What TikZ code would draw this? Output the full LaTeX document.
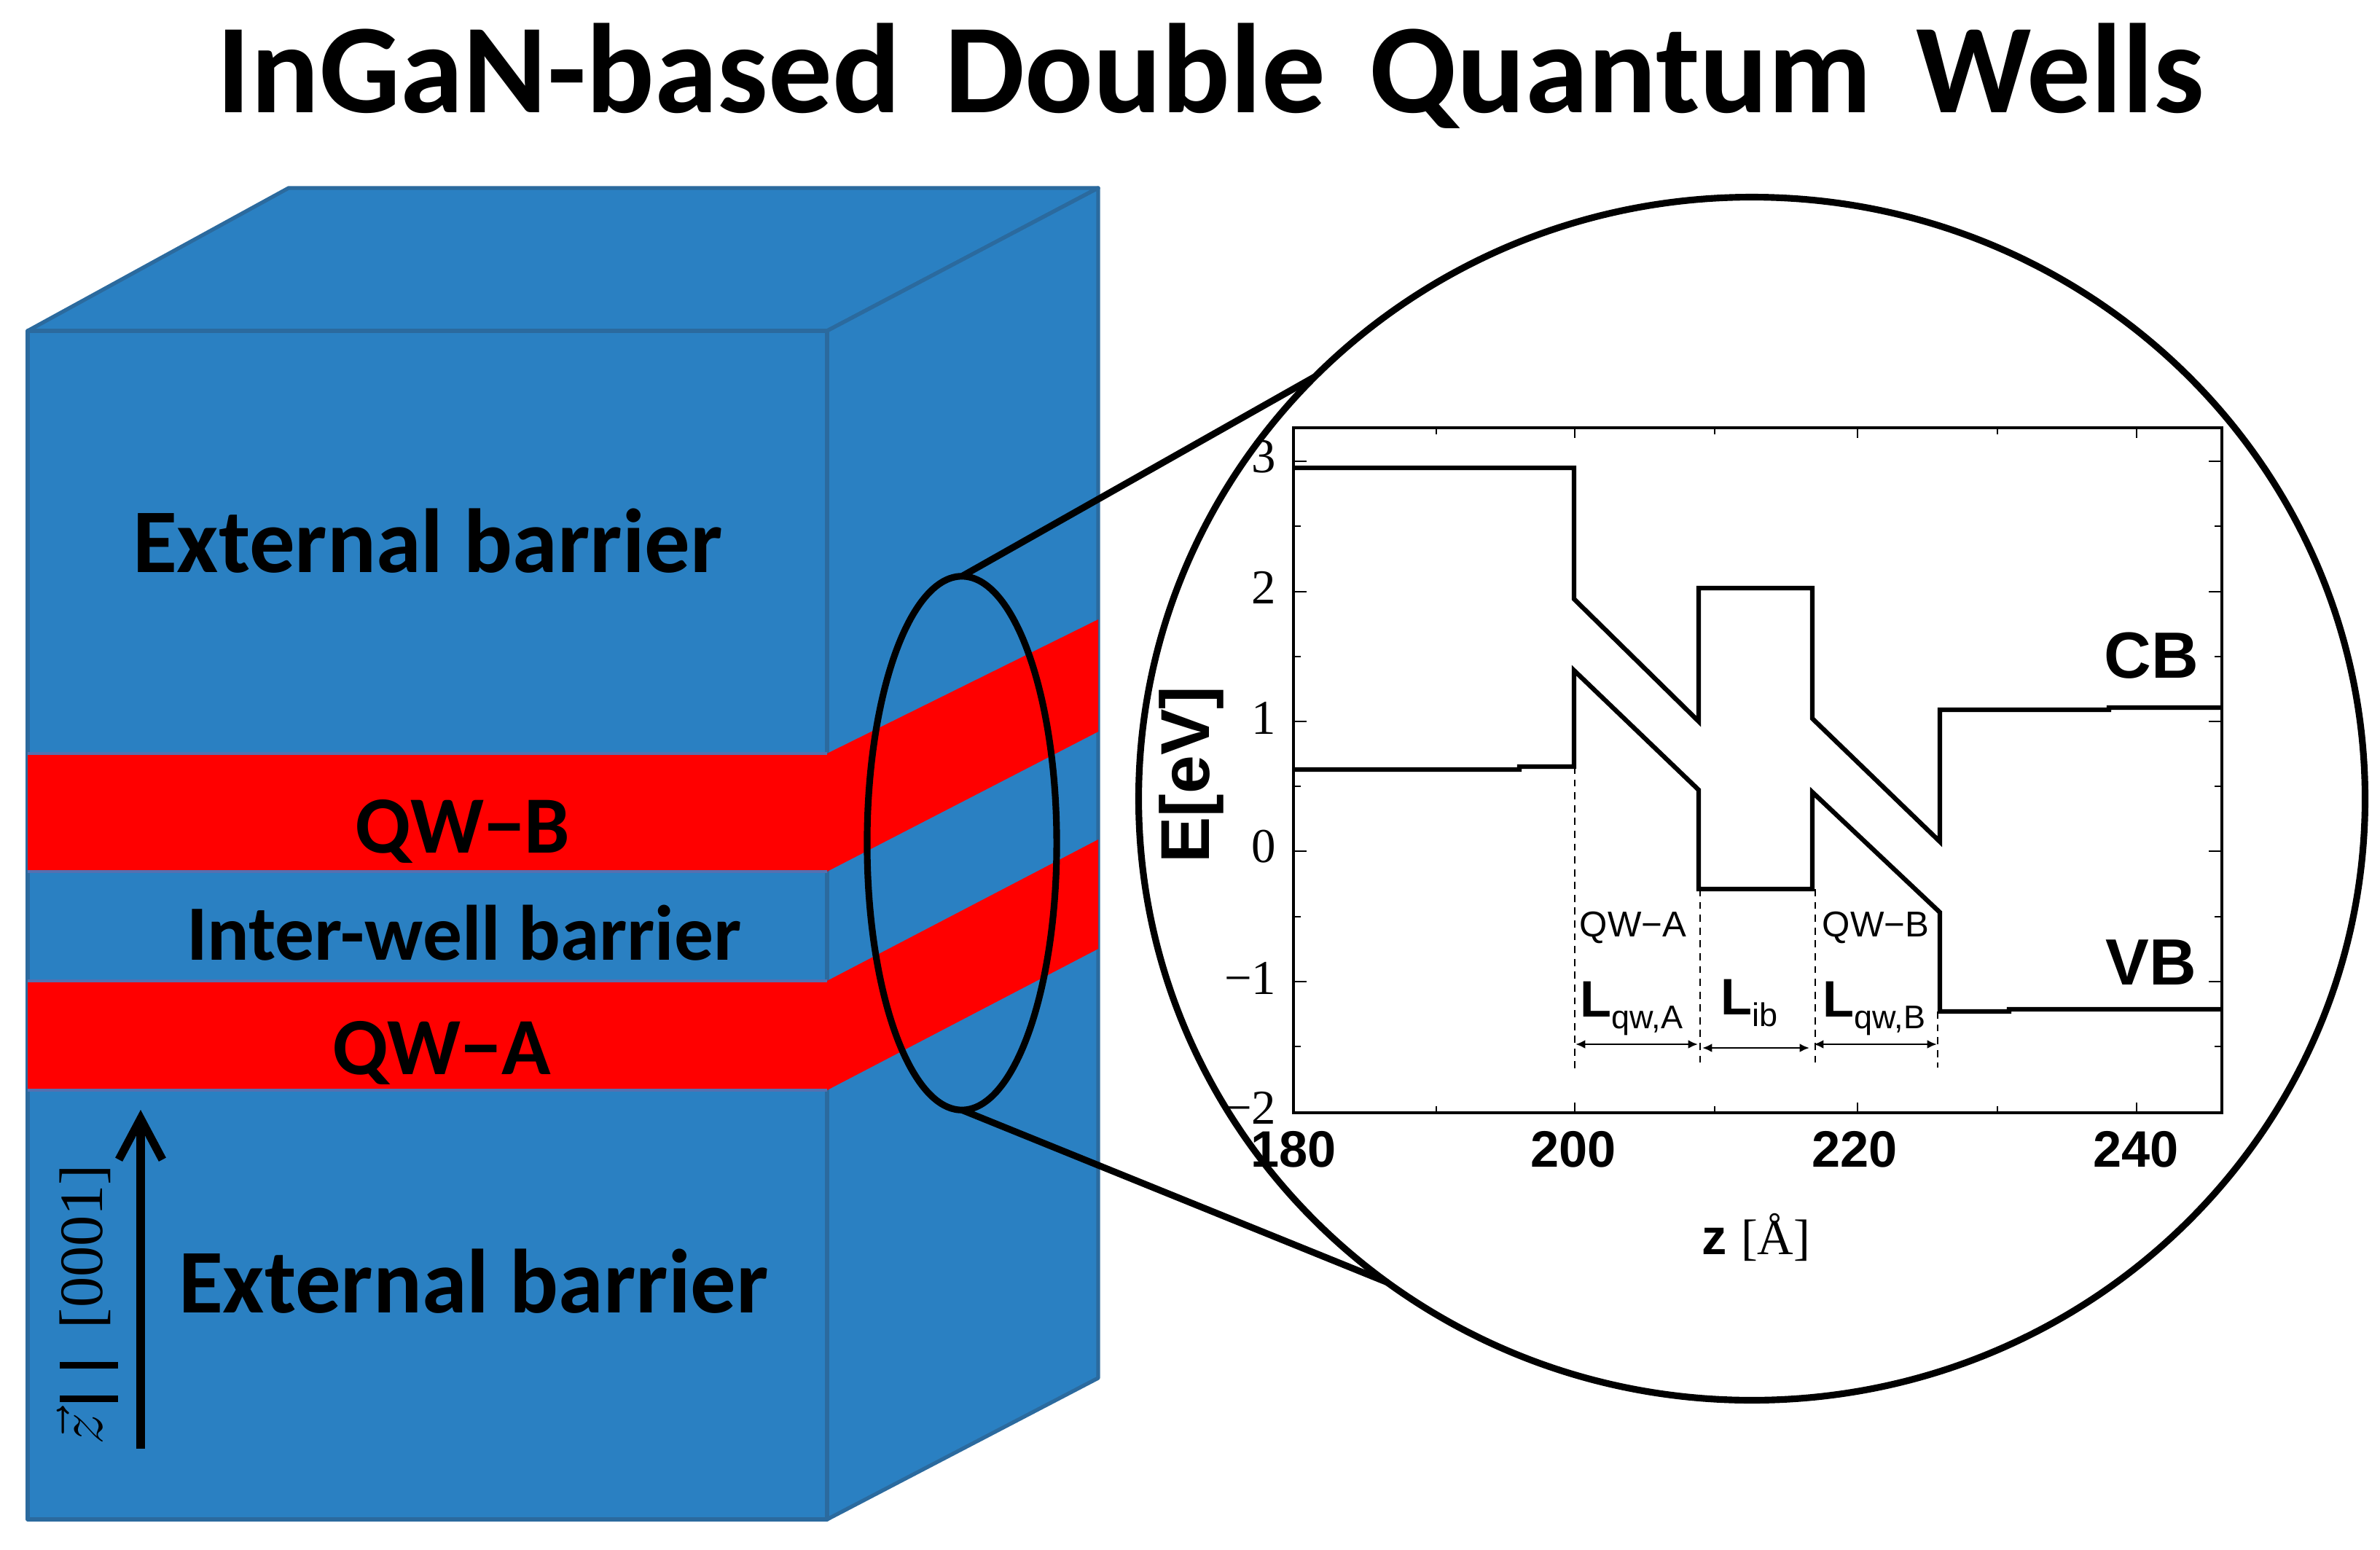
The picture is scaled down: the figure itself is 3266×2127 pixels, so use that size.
\documentclass[tikz,border=0pt]{standalone}
\usepackage{fontspec}
\setmainfont{Liberation Sans}
\newfontfamily\calfont{Carlito}
\newfontfamily\serfont{Liberation Serif}
\usetikzlibrary{arrows.meta,shapes.geometric}
\definecolor{boxblue}{HTML}{2A80C2}
\definecolor{boxedge}{HTML}{2B6A9E}
\definecolor{wellred}{HTML}{FF0000}
\definecolor{wellrim}{HTML}{5570B0}
\tikzset{
  face/.style={fill=boxblue,draw=boxedge,line width=1.5pt,line join=round},
  well/.style={fill=wellred,draw=none},
  boxlabel/.style={inner sep=0pt,font=\calfont\bfseries\fontsize{35.5}{38}\selectfont},
  welllabel/.style={inner sep=0pt,font=\calfont\bfseries\fontsize{31.7}{34}\selectfont},
  band/.style={line width=1.8pt,line join=miter},
  guide/.style={line width=0.8pt,dash pattern=on 2.8pt off 2.2pt},
  span/.style={line width=0.8pt,{Latex[length=3.8pt,width=3.4pt]}-{Latex[length=3.8pt,width=3.4pt]}},
  ticklab/.style={inner sep=0pt,font=\bfseries\fontsize{20}{22}\selectfont},
  ylab/.style={inner sep=0pt,anchor=east,font=\serfont\fontsize{19}{21}\selectfont},
  ringline/.style={line width=2.6pt},
  smalltick/.style={line width=0.8pt},
  sublab/.style={inner sep=0pt,anchor=base west},
  qwlab/.style={inner sep=0pt,font=\fontsize{14}{15}\selectfont},
  bandlab/.style={inner sep=0pt,font=\bfseries\fontsize{25.5}{28}\selectfont},
}
\newcommand{\Lsub}[1]{{\bfseries\fontsize{20}{22}\selectfont L}\raisebox{-4.6pt}{\fontsize{12.8}{14}\selectfont #1}}
\newcommand{\zbar}{\rule[-6pt]{2.5pt}{22.8pt}}
\begin{document}
\begin{tikzpicture}[x=0.01cm,y=-0.01cm]
\useasboundingbox (0,0) rectangle (3266,2127);
\fill[white] (0,0) rectangle (3266,2127);
% title
\node[inner sep=0pt,font=\calfont\bfseries\fontsize{49.7}{54}\selectfont] (title) at (1661,104) {InGaN-based\hspace{0.12em} Double\hspace{0.12em} Quantum\hspace{0.12em} Wells};
% block
\draw[face] (38,454) -- (396,258) -- (1507,258) -- (1135,454) -- cycle;
\draw[face] (1135,454) -- (1507,258) -- (1507,1891) -- (1135,2085) -- cycle;
\draw[face] (38,454) rectangle (1135,2085);
% wells
\fill[well] (38,1034) rectangle (1135,1196);
\fill[well] (38,1346) rectangle (1135,1496);
\fill[well] (1135,1034) -- (1507,850) -- (1507,1004) -- (1135,1196) -- cycle;
\fill[well] (1135,1346) -- (1507,1152) -- (1507,1302) -- (1135,1496) -- cycle;
\draw[wellrim,line width=1pt] (38,1034) -- (1135,1034) (38,1196) -- (1135,1196) (38,1346) -- (1135,1346) (38,1496) -- (1135,1496);
% block labels
\node[boxlabel] (ext1) at (587,742) {External barrier};
\node[boxlabel] (ext2) at (650,1758) {External barrier};
\node[welllabel] (qwb) at (635,1141) {QW−B};
\node[boxlabel,font=\calfont\bfseries\fontsize{30.6}{33}\selectfont] (inter) at (637,1280) {Inter-well barrier};
\node[welllabel] (qwa) at (606,1445) {QW−A};
% growth direction
\coordinate (zstart) at (193,1988);
\coordinate (zend) at (193,1523);
\draw[line width=3.4pt,-{Straight Barb[length=16pt,width=17pt,line width=3.2pt]}] (zstart) -- (zend);
\node[rotate=90,inner sep=0pt,font=\serfont\fontsize{24}{26}\selectfont] (zdir) at (120,1790) {$\vec{z}$\hspace{4pt}\zbar\hspace{10.8pt}\zbar\hspace{13pt}[0001]};
% ring and zoom lines
\node[draw,ringline,ellipse,fill=white,minimum width=16.82cm,minimum height=16.5cm,inner sep=0pt,outer sep=0pt] (ring) at (2404,1096) {};
\node[draw,ringline,ellipse,minimum width=2.6cm,minimum height=7.32cm,inner sep=0pt,outer sep=0pt] (lens) at (1320,1157) {};
\draw[ringline] (lens.north) -- (ring.136);
\draw[ringline] (lens.south) -- (ring.233.6);
% plot frame
\draw[line width=1pt] (1775,587) rectangle (3049,1527);
\foreach \v in {633,812,990,1168,1347}{
  \draw[smalltick] (1775,\v) -- ++(18,0);
  \draw[smalltick] (3049,\v) -- ++(-18,0);
}
\foreach \v in {722,901,1079,1258,1436}{
  \draw[smalltick] (1775,\v) -- ++(10,0);
  \draw[smalltick] (3049,\v) -- ++(-10,0);
}
\foreach \u in {2161,2549,2932}{
  \draw[smalltick] (\u,587) -- ++(0,14);
  \draw[smalltick] (\u,1527) -- ++(0,-14);
}
\foreach \u in {1971,2353,2741}{
  \draw[smalltick] (\u,587) -- ++(0,9);
  \draw[smalltick] (\u,1527) -- ++(0,-9);
}
\foreach \v/\t/\n in {627/3/a,806/2/b,985/1/c,1162/0/d,1342/−1/e,1520/−2/f}
  \node[ylab] (y\n) at (1752,\v) {\t};
\foreach \u/\t in {1775/180,2159/200,2545/220,2931/240}
  \node[ticklab] (x\t) at (\u,1577) {\t};
\node[rotate=90,inner sep=0pt,font=\bfseries\fontsize{27}{30}\selectfont] (ylabel) at (1635,1063) {E[eV]};
\node[inner sep=0pt,font=\fontsize{19.5}{22}\selectfont] (xlabel) at (2410,1698) {{\bfseries z} {\serfont [Å]}};
% bands
\draw[band] (1775,642) -- (2160,642) -- (2160,822) -- (2331,990) -- (2331,807) -- (2487,807) -- (2487,986) -- (2662,1155) -- (2662,974) -- (2894,974) -- (2894,971) -- (3049,971);
\draw[band] (1775,1056) -- (2085,1056) -- (2085,1052) -- (2160,1052) -- (2160,920) -- (2331,1084) -- (2331,1220) -- (2487,1220) -- (2487,1087) -- (2662,1252) -- (2662,1388) -- (2757,1388) -- (2757,1385) -- (3049,1385);
% guides
\draw[guide] (2161,1052) -- (2161,1466);
\draw[guide] (2333,1220) -- (2333,1462);
\draw[guide] (2491,1220) -- (2491,1460);
\draw[guide] (2659,1388) -- (2659,1465);
% spans
\coordinate (sa) at (2162,1433); \coordinate (sb) at (2330,1433);
\coordinate (sc) at (2336,1438); \coordinate (sd) at (2483,1438);
\coordinate (se) at (2489,1433); \coordinate (sf) at (2658,1433);
\draw[span] (sa) -- (sb);
\draw[span] (sc) -- (sd);
\draw[span] (se) -- (sf);
% plot labels
\node[qwlab] (pa) at (2241,1273) {QW−A};
\node[qwlab] (pb) at (2574,1273) {QW−B};
\node[sublab] (la) at (2168,1395) {\Lsub{qw,A}};
\node[sublab] (lb) at (2361,1392) {\Lsub{ib}};
\node[sublab] (lc) at (2501,1395) {\Lsub{qw,B}};
\node[bandlab] (cb) at (2952,900) {CB};
\node[bandlab] (vb) at (2952,1321) {VB};
\end{tikzpicture}
\end{document}
